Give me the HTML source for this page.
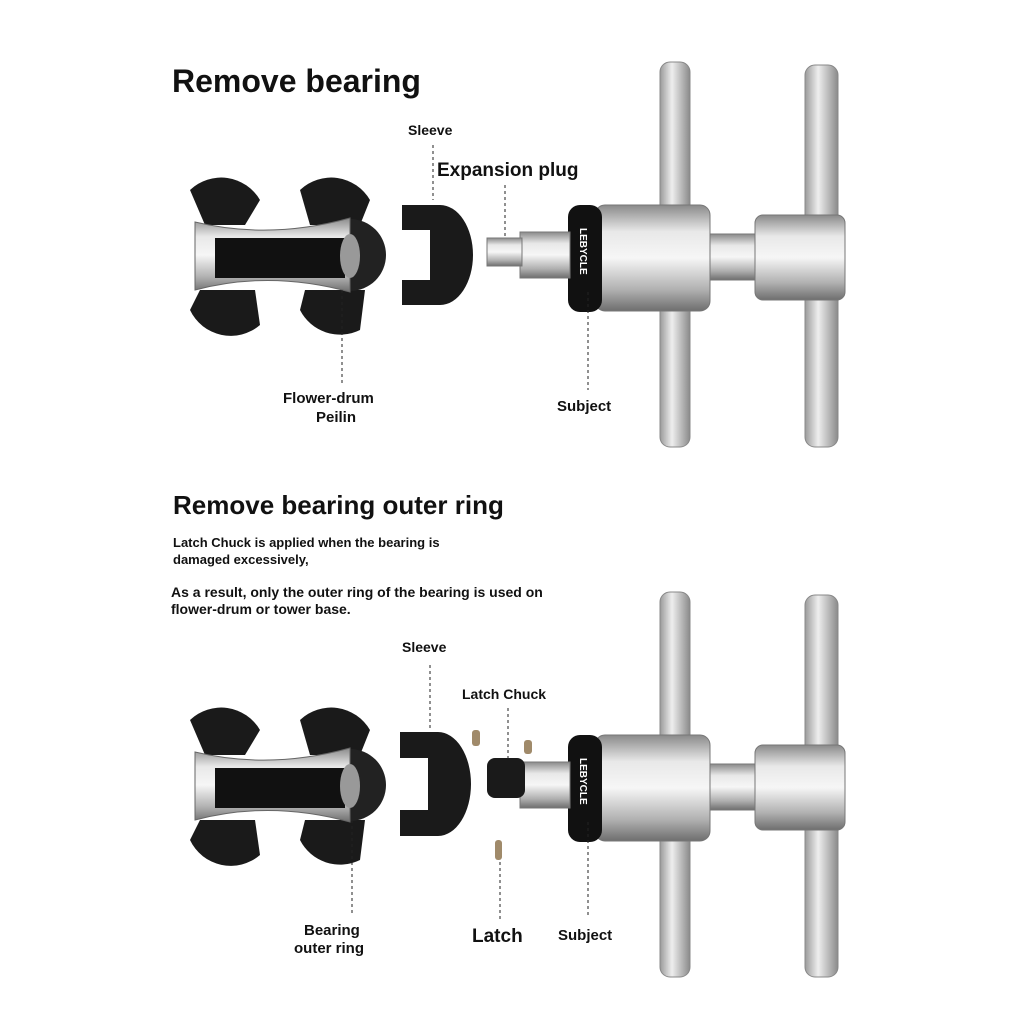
<!DOCTYPE html>
<html><head><meta charset="utf-8"><style>
body{margin:0;background:#fff}
svg{display:block}
text{font-family:"Liberation Sans",sans-serif;fill:#111;font-weight:bold}
</style></head><body>
<svg width="1024" height="1024" viewBox="0 0 1024 1024">
<defs>
<linearGradient id="sil" x1="0" y1="0" x2="0" y2="1">
<stop offset="0" stop-color="#8a8a8a"/><stop offset="0.25" stop-color="#e8e8e8"/><stop offset="0.5" stop-color="#f6f6f6"/><stop offset="0.8" stop-color="#b0b0b0"/><stop offset="1" stop-color="#6e6e6e"/>
</linearGradient>
<linearGradient id="silv" x1="0" y1="0" x2="1" y2="0">
<stop offset="0" stop-color="#9a9a9a"/><stop offset="0.4" stop-color="#eeeeee"/><stop offset="1" stop-color="#8a8a8a"/>
</linearGradient>
<g id="tool">
  <rect x="660" y="62" width="30" height="385" rx="10" fill="url(#silv)" stroke="#888"/>
  <rect x="805" y="65" width="33" height="382" rx="10" fill="url(#silv)" stroke="#888"/>
  <rect x="700" y="234" width="62" height="46" fill="url(#sil)" stroke="#777"/>
  <rect x="755" y="215" width="90" height="85" rx="8" fill="url(#sil)" stroke="#777"/>
  <rect x="595" y="205" width="115" height="106" rx="10" fill="url(#sil)" stroke="#777"/>
  <rect x="568" y="205" width="34" height="107" rx="12" fill="#111"/>
  <text x="0" y="0" transform="translate(580,228) rotate(90)" style="font-size:10px;fill:#fff">LEBYCLE</text>
  <rect x="520" y="232" width="50" height="46" fill="url(#sil)" stroke="#777"/>
</g>
<g id="hub">
  <path d="M190 190 A45 45 0 0 1 260 200 L245 225 L205 225 Z" fill="#1a1a1a"/>
  <path d="M300 190 A45 45 0 0 1 370 200 L360 225 L310 225 Z" fill="#1a1a1a"/>
  <path d="M190 310 A45 45 0 0 0 260 325 L255 290 L200 290 Z" fill="#1a1a1a"/>
  <path d="M300 310 A45 45 0 0 0 360 330 L365 290 L305 290 Z" fill="#1a1a1a"/>
  <circle cx="350" cy="255" r="36" fill="#222"/>
  <path d="M195 222 Q270 240 350 218 L350 292 Q270 270 195 290 Z" fill="url(#sil)" stroke="#666"/>
  <rect x="215" y="238" width="130" height="40" fill="#111"/>
  <ellipse cx="350" cy="256" rx="10" ry="22" fill="#999"/>
</g>
</defs>

<text x="172" y="92" style="font-size:32px">Remove bearing</text>
<use href="#hub"/>
<path d="M402 205 H440 A33 50 0 0 1 440 305 H402 V280 H430 V230 H402 Z" fill="#1a1a1a"/>
<use href="#tool"/>
<rect x="487" y="238" width="35" height="28" fill="url(#sil)" stroke="#777"/>
<text x="408" y="135" style="font-size:14px">Sleeve</text>
<text x="437" y="176" style="font-size:19px">Expansion plug</text>
<g stroke="#222" stroke-dasharray="3,3" fill="none">
<line x1="433" y1="145" x2="433" y2="200"/><line x1="505" y1="185" x2="505" y2="238"/>
<line x1="342" y1="290" x2="342" y2="385"/><line x1="588" y1="292" x2="588" y2="390"/>
</g>
<text x="283" y="403" style="font-size:15px">Flower-drum</text>
<text x="316" y="422" style="font-size:15px">Peilin</text>
<text x="557" y="411" style="font-size:15px">Subject</text>

<text x="173" y="514" style="font-size:26px">Remove bearing outer ring</text>
<text x="173" y="547" style="font-size:13px">Latch Chuck is applied when the bearing is</text>
<text x="173" y="564" style="font-size:13px">damaged excessively,</text>
<text x="171" y="597" style="font-size:14px">As a result, only the outer ring of the bearing is used on</text>
<text x="171" y="614" style="font-size:14px">flower-drum or tower base.</text>

<g transform="translate(0,530)"><use href="#hub"/><use href="#tool"/></g>
<path d="M400 732 H438 A33 52 0 0 1 438 836 H400 V810 H428 V758 H400 Z" fill="#1a1a1a"/>
<rect x="487" y="758" width="38" height="40" rx="8" fill="#1a1a1a"/>
<rect x="472" y="730" width="8" height="16" rx="3" fill="#a08a6a"/>
<rect x="524" y="740" width="8" height="14" rx="3" fill="#a08a6a"/>
<rect x="495" y="840" width="7" height="20" rx="3" fill="#a08a6a"/>
<text x="402" y="652" style="font-size:14px">Sleeve</text>
<text x="462" y="699" style="font-size:14px">Latch Chuck</text>
<g stroke="#222" stroke-dasharray="3,3" fill="none">
<line x1="430" y1="665" x2="430" y2="730"/><line x1="508" y1="708" x2="508" y2="760"/>
<line x1="352" y1="820" x2="352" y2="915"/><line x1="500" y1="862" x2="500" y2="920"/>
<line x1="588" y1="822" x2="588" y2="918"/>
</g>
<text x="304" y="935" style="font-size:15px">Bearing</text>
<text x="294" y="953" style="font-size:15px">outer ring</text>
<text x="472" y="942" style="font-size:19px">Latch</text>
<text x="558" y="940" style="font-size:15px">Subject</text>
</svg>
</body></html>
